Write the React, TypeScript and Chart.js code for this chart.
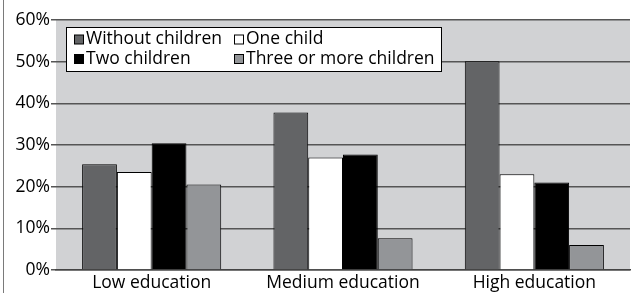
import React, { useEffect, useRef } from "react";
import { Chart, registerables } from "chart.js";

Chart.register(...registerables);

const categories = ["Low education", "Medium education", "High education"];
const seriesLabels = ["Without children", "One child", "Two children", "Three or more children"];
const withoutChildren = [25.4, 37.8, 50.1];
const oneChild = [23.5, 27.0, 23.0];
const twoChildren = [30.4, 27.7, 21.0];
const threeOrMore = [20.5, 7.6, 6.0];
const seriesColors = ["#636466", "#ffffff", "#000000", "#939598"];
const yTicks = [0, 10, 20, 30, 40, 50, 60];

const FONT = "'Open Sans'";
const FS = 17.5;

export default function App() {
  const ref = useRef<HTMLCanvasElement | null>(null);
  useEffect(() => {
    document.body.style.margin = "0";
    const canvas = ref.current;
    if (!canvas) return;
    const bgPlugin = {
      id: "bg",
      beforeDraw(chart: any) {
        const { ctx, chartArea } = chart;
        ctx.save();
        ctx.fillStyle = "#d1d2d4";
        ctx.fillRect(chartArea.left, chartArea.top, chartArea.right - chartArea.left, chartArea.bottom - chartArea.top);
        ctx.restore();
      },
      afterDraw(chart: any) {
        const { ctx } = chart;
        ctx.save();
        ctx.strokeStyle = "#7a7a7a";
        ctx.lineWidth = 1;
        ctx.beginPath();
        ctx.moveTo(3.5, 0);
        ctx.lineTo(3.5, chart.height);
        ctx.stroke();
        const bx = 66.5, by = 27.5, bw = 375, bh = 44;
        ctx.fillStyle = "#ffffff";
        ctx.fillRect(bx, by, bw, bh);
        ctx.strokeStyle = "#000";
        ctx.lineWidth = 1;
        ctx.strokeRect(bx, by, bw, bh);
        const cols = [74, 234];
        const rows = [39.5, 59];
        ctx.font = `${FS}px ${FONT}`;
        ctx.textBaseline = "middle";
        ctx.textAlign = "left";
        chart.data.datasets.forEach((ds: any, i: number) => {
          const x = cols[i % 2];
          const y = rows[Math.floor(i / 2)];
          ctx.fillStyle = ds.backgroundColor;
          ctx.fillRect(x + 0.5, y - 4.5, 9, 9);
          ctx.strokeStyle = "#000";
          ctx.strokeRect(x + 0.5, y - 4.5, 9, 9);
          ctx.fillStyle = "#000";
          ctx.fillText(ds.label, x + 12, y);
        });
        ctx.restore();
      },
    };
    const values = [withoutChildren, oneChild, twoChildren, threeOrMore];
    const chart = new Chart(canvas, {
      type: "bar",
      data: {
        labels: categories,
        datasets: seriesLabels.map((label, i) => ({
          label,
          data: values[i],
          backgroundColor: seriesColors[i],
          borderColor: "#000",
          borderWidth: 1,
          categoryPercentage: 0.727,
          barPercentage: 1,
        })),
      },
      options: {
        animation: false,
        responsive: false,
        layout: { padding: { left: 0, top: 20, right: 4, bottom: 0 } },
        plugins: { legend: { display: false }, tooltip: { enabled: false } },
        scales: {
          x: {
            grid: { display: false, drawTicks: false },
            border: { display: true, color: "#444", width: 1.5 },
            ticks: { color: "#000", font: { family: FONT, size: FS }, padding: 3 },
            afterFit(axis: any) {
              axis.height = 23;
            },
          },
          y: {
            min: 0,
            max: 60,
            afterBuildTicks(axis: any) {
              axis.ticks = yTicks.map((v) => ({ value: v }));
            },
            grid: { color: "#555", lineWidth: 1.5, tickLength: 5, drawTicks: true },
            border: { display: false },
            ticks: {
              color: "#000",
              font: { family: FONT, size: FS },
              padding: 1,
              callback: (v: any) => `${v}%`,
            },
            afterFit(axis: any) {
              axis.width = 56;
            },
          },
        },
      },
      plugins: [bgPlugin],
    });
    return () => chart.destroy();
  }, []);
  return (
    <div style={{ width: 634, height: 293 }}>
      <canvas ref={ref} width={634} height={293} style={{ width: 634, height: 293, display: "block" }} />
    </div>
  );
}
